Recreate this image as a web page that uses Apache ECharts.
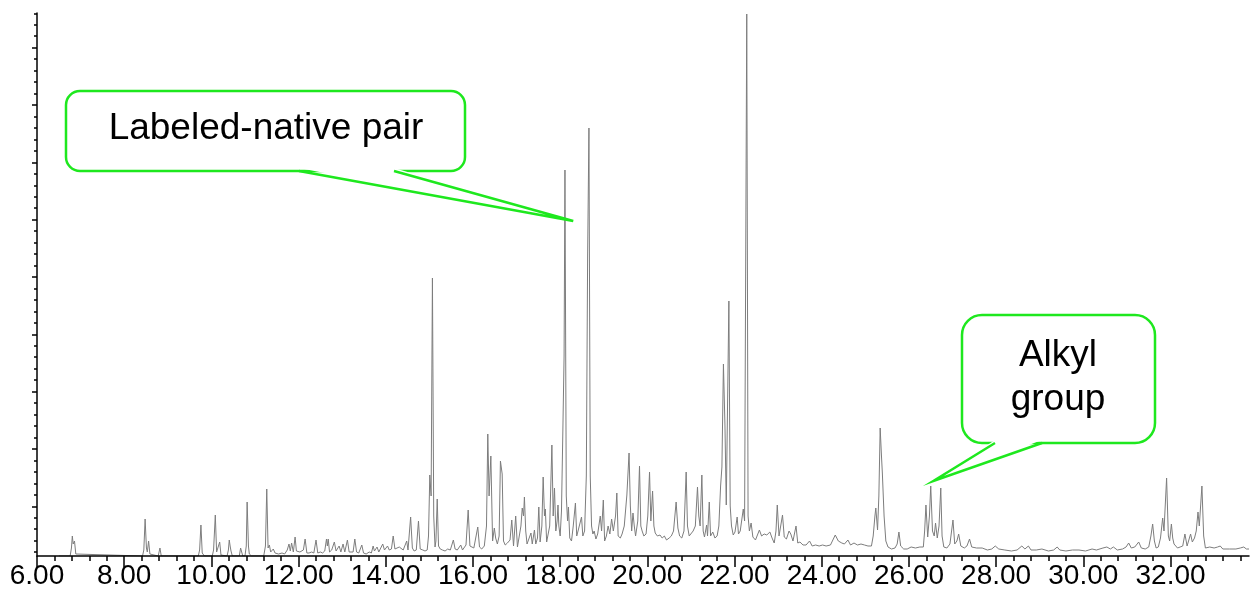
<!DOCTYPE html>
<html>
<head>
<meta charset="utf-8">
<title>Chromatogram</title>
<script src="https://cdn.jsdelivr.net/npm/echarts@6/dist/echarts.min.js"></script>
<style>
  html, body { margin: 0; padding: 0; background: #fff; }
  #chart { width: 1250px; height: 597px; }
</style>
</head>
<body>
<div id="chart"></div>
<script>
// Total ion chromatogram: [retention time (min), abundance]
const traceA = [
  [6.50,0],[6.76,0],[6.79,8],[6.81,20],[6.83,12],[6.86,15],[6.89,2],[6.93,0],
  [8.42,0],[8.45,6],[8.48,37],[8.51,8],[8.53,4],[8.56,15],[8.59,2],[8.62,0],
  [8.78,0],[8.82,8],[8.85,0],[9.01,0],[9.03,2],[9.05,0],
  [9.70,0],[9.73,6],[9.76,31],[9.79,3],[9.81,4],[9.84,0],
  [10.02,0],[10.05,6],[10.09,41],[10.12,4],[10.16,3],[10.19,14],[10.22,1],[10.25,0],
  [10.36,0],[10.39,6],[10.41,16],[10.43,10],[10.45,5],[10.48,0],
  [10.64,0],[10.67,8],[10.70,6],[10.72,0],
  [10.77,0],[10.80,10],[10.82,54],[10.85,10],[10.87,2],[10.90,4],[10.92,0],
  [11.20,0],[11.24,10],[11.27,67],[11.30,8],[11.33,11],[11.36,4],[11.42,7],[11.46,3],[11.50,5],[11.54,2],
  [11.62,3],[11.68,2],[11.74,6],[11.78,12],[11.81,5],[11.84,13],[11.88,4],[11.92,19],[11.95,5],
  [11.99,3],[12.03,4],[12.07,2],[12.11,6],[12.15,17],[12.19,3]
];
const traceB = [
  [12.24,3],[12.30,4],[12.35,3],[12.40,16],[12.44,3],[12.50,4],[12.55,3],[12.60,5],[12.64,17],[12.66,10],
  [12.68,17],[12.71,4],[12.76,6],[12.82,14],[12.86,5],[12.90,5],[12.93,10],[12.97,4],[13.02,12],[13.06,4],
  [13.09,5],[13.12,16],[13.16,4],[13.20,5],[13.25,4],[13.29,17],[13.33,4],[13.38,3],[13.45,11],[13.49,3],
  [13.55,2],[13.62,4],[13.67,3],[13.71,10],[13.74,5],[13.77,6],[13.80,9],[13.84,4],[13.88,5],[13.93,12],
  [13.97,6],[14.00,7],[14.04,10],[14.08,6],[14.13,7],[14.17,20],[14.21,7],[14.25,6],[14.31,9],[14.35,7],
  [14.40,6],[14.44,8],[14.48,15],[14.51,6],[14.54,8],[14.57,39],[14.61,8],[14.65,5],[14.70,6],[14.75,35],
  [14.79,7],[14.85,6],[14.90,5],[14.95,6],[14.98,20],[15.01,81],[15.04,60],[15.07,278],[15.10,40],[15.13,9],
  [15.15,15],[15.18,57],[15.21,10],[15.25,7],[15.30,6],[15.36,5],[15.42,7],[15.48,6],[15.55,16],[15.59,7],
  [15.64,6],[15.68,7],[15.72,11],[15.76,6],[15.80,8],[15.84,11],[15.89,46],[15.93,10],[15.97,12],[16.02,8],
  [16.06,10],[16.11,29],[16.15,9],[16.20,7],[16.26,10],[16.31,30],[16.34,122],[16.37,60],[16.41,100],[16.45,15],
  [16.49,28],[16.52,18],[16.56,12],[16.60,20],[16.63,95],[16.67,82],[16.70,15],[16.74,11],[16.79,13],[16.85,16]
];
const traceC = [
  [16.89,36],[16.93,10],[16.98,40],[17.02,9],[17.06,10],[17.10,30],[17.13,48],[17.16,40],[17.18,59],[17.21,25],
  [17.24,12],[17.28,11],[17.33,23],[17.36,12],[17.41,26],[17.44,12],[17.48,18],[17.51,49],[17.54,14],[17.58,30],
  [17.61,79],[17.64,40],[17.66,47],[17.69,14],[17.72,13],[17.76,30],[17.81,111],[17.84,40],[17.87,68],[17.90,25],
  [17.93,35],[17.95,51],[17.97,30],[18.00,20],[18.03,45],[18.06,121],[18.09,200],[18.11,386],[18.14,60],[18.17,35],
  [18.19,49],[18.22,18],[18.26,15],[18.30,30],[18.35,53],[18.38,20],[18.41,25],[18.45,25],[18.49,39],[18.52,20],
  [18.56,25],[18.60,80],[18.63,300],[18.66,428],[18.69,80],[18.72,30],[18.75,22],[18.78,25],[18.82,17],[18.86,22],
  [18.92,40],[18.95,25],[18.99,56],[19.02,15],[19.06,20],[19.10,30],[19.14,22],[19.18,37],[19.22,25],[19.27,40],
  [19.30,63],[19.33,20],[19.38,18],[19.42,22],[19.47,30],[19.53,61],[19.58,103],[19.61,50],[19.64,25],[19.67,43],
  [19.70,30],[19.73,20],[19.78,35],[19.82,90],[19.85,30],[19.88,25],[19.92,20],[19.97,22],[20.01,40],[20.05,84],
  [20.08,35],[20.12,65],[20.15,30],[20.18,23],[20.23,20],[20.29,21],[20.34,18],[20.39,20],[20.44,16],[20.50,18],
  [20.55,20],[20.60,25],[20.66,54],[20.70,28],[20.74,20],[20.79,18],[20.84,25],[20.89,84],[20.92,30],[20.96,20],
  [21.00,18],[21.05,25],[21.10,30],[21.15,69],[21.18,40],[21.21,30],[21.25,81],[21.28,25],[21.31,19],[21.36,31],
  [21.38,20],[21.42,54],[21.45,20],[21.50,24],[21.55,18],[21.60,20],[21.64,30],[21.68,70],[21.71,89],[21.745,192],
  [21.78,130],[21.81,51],[21.87,255],[21.90,50],[21.93,30],[21.97,21],[22.01,24],[22.06,39],[22.09,22],[22.13,25],
  [22.20,47],[22.23,35],[22.28,542],[22.31,40],[22.34,25],[22.38,33]
];
const traceD = [
  [22.42,19],[22.48,16],[22.57,26],[22.62,20],[22.68,22],[22.74,21],[22.81,24],[22.86,18],[22.91,13],[22.95,25],
  [22.98,51],[23.02,20],[23.06,18],[23.10,41],[23.14,19],[23.19,17],[23.25,25],[23.29,22],[23.34,15],[23.41,30],
  [23.45,13],[23.50,14],[23.57,11],[23.64,11],[23.72,15],[23.78,10],[23.86,11],[23.94,10],[24.02,11],[24.10,10],
  [24.20,11],[24.31,21],[24.38,15],[24.46,13],[24.52,12],[24.60,16],[24.66,11],[24.74,13],[24.82,11],[24.90,12],
  [24.98,11],[25.06,10],[25.14,10],[25.18,20],[25.22,40],[25.24,48],[25.28,26],[25.31,60],[25.34,128],[25.37,100],
  [25.39,83],[25.43,40],[25.47,15],[25.52,9],[25.60,7],[25.68,8],[25.73,12],[25.77,24],[25.81,10],[25.88,7],
  [25.96,7],[26.05,9],[26.15,8],[26.25,9],[26.33,9],[26.36,25],[26.39,51],[26.43,19],[26.47,40],[26.50,70],
  [26.54,25],[26.58,20],[26.61,33],[26.65,18],[26.69,30],[26.73,68],[26.76,20],[26.80,9],[26.87,8],[26.94,12],
  [27.01,36],[27.05,12],[27.10,15],[27.14,22],[27.19,10],[27.27,8],[27.33,10],[27.39,17],[27.44,9],[27.55,8],
  [27.68,8],[27.80,6],[27.90,7],[27.98,10],[28.06,7],[28.20,6],[28.35,5],[28.48,6],[28.59,10],[28.66,7],
  [28.74,10],[28.80,6],[28.92,6],[29.05,7],[29.20,5],[29.32,6],[29.40,9],[29.46,6],[29.50,7],[29.60,5],
  [29.75,6],[29.90,6],[30.05,5],[30.20,7],[30.30,6],[30.45,8],[30.54,9],[30.62,7],[30.69,9],[30.78,6],
  [30.90,7],[30.98,9],[31.04,13],[31.10,8],[31.18,9],[31.27,14],[31.33,8],[31.42,7],[31.50,9],[31.55,20],
  [31.59,32],[31.63,15],[31.67,8],[31.72,9],[31.77,18],[31.82,38],[31.85,25],[31.91,78],[31.95,20],[31.98,15],
  [32.02,32],[32.05,18],[32.08,12],[32.11,13],[32.16,8],[32.22,9],[32.28,10],[32.33,22],[32.38,10],[32.42,12],
  [32.46,22],[32.50,14],[32.55,18],[32.59,25],[32.63,44],[32.66,30],[32.72,70],[32.76,20],[32.80,8],[32.90,9],
  [33.00,8],[33.08,9],[33.14,10],[33.20,7],[33.35,7],[33.50,7],[33.60,8],[33.68,9],[33.74,7],[33.80,7]
];
const signal = traceA.concat(traceB, traceC, traceD);

// Axis ranges and tick positions
const timeMin = 6, timeMax = 33.8;
const timeLabels = [6, 8, 10, 12, 14, 16, 18, 20, 22, 24, 26, 28, 30, 32];
const timeMinorStep = 0.4;
const abundanceMax = 543;
const abundanceFirstMajor = 49.7, abundanceMajorStep = 57.33;

// Callout annotations
const calloutTexts = ['Labeled-native pair', 'Alkyl\ngroup'];
const calloutTargets = [[18.30, 335], [26.56, 75]];

const timeMinor = [];
for (let v = timeMin + timeMinorStep; v < timeMax; v += timeMinorStep) {
  const r = Math.round(v * 100) / 100;
  if (Math.abs(r / 2 - Math.round(r / 2)) > 1e-6) timeMinor.push(r);
}
const abMajor = [], abMinor = [];
for (let k = -1; ; k++) {
  const base = abundanceFirstMajor + k * abundanceMajorStep;
  if (base > abundanceMax) break;
  if (base >= 0) abMajor.push(base);
  for (let j = 1; j < 5; j++) {
    const m = base + j * abundanceMajorStep / 5;
    if (m > 0 && m < abundanceMax) abMinor.push(m);
  }
}

const chart = echarts.init(document.getElementById('chart'), null, { renderer: 'canvas' });
const axisColor = '#000';
const labelFont = '"Liberation Sans Narrow", "Liberation Sans", Arial, sans-serif';

chart.setOption({
  animation: false,
  backgroundColor: '#fff',
  grid: { left: 37, right: 1, top: 13, bottom: 41, outerBoundsMode: 'none' },
  xAxis: [
    {
      type: 'value', min: timeMin, max: timeMax, z: 5,
      axisLine: { lineStyle: { color: axisColor, width: 1.5 } },
      axisTick: { customValues: timeLabels, length: 11, lineStyle: { color: axisColor, width: 1.5 } },
      axisLabel: {
        customValues: timeLabels, margin: 6, color: '#000', fontSize: 28, fontFamily: labelFont,
        formatter: v => v.toFixed(2)
      },
      splitLine: { show: false }
    },
    {
      type: 'value', min: timeMin, max: timeMax, position: 'bottom', z: 5,
      axisLine: { show: false },
      axisTick: { customValues: timeMinor, length: 5, lineStyle: { color: axisColor, width: 1.5 } },
      axisLabel: { show: false },
      splitLine: { show: false }
    }
  ],
  yAxis: [
    {
      type: 'value', min: 0, max: abundanceMax, z: 5,
      axisLine: { show: true, lineStyle: { color: axisColor, width: 1.5 } },
      axisTick: { show: true, customValues: abMajor, length: 5, lineStyle: { color: axisColor, width: 1.5 } },
      axisLabel: { show: false },
      splitLine: { show: false }
    },
    {
      type: 'value', min: 0, max: abundanceMax, position: 'left', z: 5,
      axisLine: { show: false },
      axisTick: { show: true, customValues: abMinor, length: 3, lineStyle: { color: axisColor, width: 1.5 } },
      axisLabel: { show: false },
      splitLine: { show: false }
    }
  ],
  series: [{
    type: 'line',
    data: signal,
    xAxisIndex: 0, yAxisIndex: 0,
    showSymbol: false,
    sampling: null,
    lineStyle: { color: '#7d7d7d', width: 1 },
    z: 3
  }]
});

// Speech-bubble callouts: rounded box, white wedge that opens the box edge, green tail outline
const green = '#1ee81e';
const textFont = '37px "Liberation Sans", Arial, sans-serif';

function bubble(box, r, baseL, baseR, tip) {
  const [x0, y0, x1, y1] = box;
  return [
    { type: 'rect', z: 10, shape: { x: x0, y: y0, width: x1 - x0, height: y1 - y0, r: r },
      style: { fill: '#fff', stroke: green, lineWidth: 2.5 } },
    { type: 'polygon', z: 11, shape: { points: [[baseL, y1 - 3], [tip[0], tip[1]], [baseR, y1 - 3]] },
      style: { fill: '#fff', stroke: null } },
    { type: 'polyline', z: 12, shape: { points: [[baseL, y1], [tip[0], tip[1]], [baseR, y1]] },
      style: { fill: null, stroke: green, lineWidth: 2.5, lineJoin: 'miter' } }
  ];
}

const tip1 = chart.convertToPixel({ gridIndex: 0 }, calloutTargets[0]);
const tip2 = chart.convertToPixel({ gridIndex: 0 }, calloutTargets[1]);

chart.setOption({
  graphic: [].concat(
    bubble([66, 91, 465, 171], 14, 299, 394, tip1),
    [{ type: 'text', z: 13, style: { text: calloutTexts[0], x: 266, y: 129, font: textFont, fill: '#000', align: 'center', verticalAlign: 'middle' } }],
    bubble([962, 315, 1155, 443], 20, 995, 1042, tip2),
    [{ type: 'text', z: 13, style: { text: calloutTexts[1], x: 1058, y: 378, font: textFont, fill: '#000', align: 'center', verticalAlign: 'middle', lineHeight: 44 } }]
  )
});
</script>
</body>
</html>
